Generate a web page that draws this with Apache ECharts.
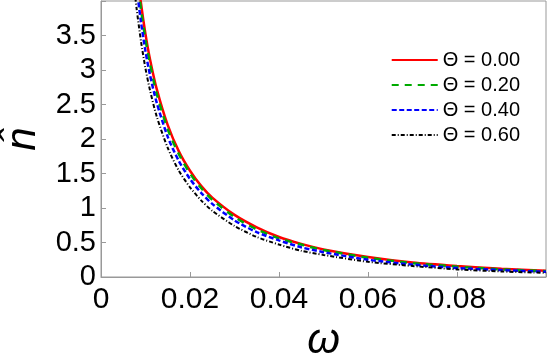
<!DOCTYPE html>
<html>
<head>
<meta charset="utf-8">
<script src="https://cdn.jsdelivr.net/npm/echarts@6/dist/echarts.min.js"></script>
<style>
  html, body { margin: 0; padding: 0; background: #fff; }
  #chart { width: 548px; height: 354px; }
</style>
</head>
<body>
<div id="chart"></div>
<script>
// omega grid (x values) shared by all curves
const omega = [0.0075, 0.008, 0.009, 0.01, 0.011, 0.0125, 0.015, 0.0175, 0.02, 0.0225,
  0.025, 0.03, 0.035, 0.04, 0.045, 0.05, 0.06, 0.07, 0.08, 0.09, 0.1]

// n-hat values, one array per Theta
const theta000 = [4.85, 4.52, 3.96, 3.52, 3.16, 2.73, 2.20, 1.82, 1.54, 1.32,
  1.15, 0.90, 0.72, 0.58, 0.48, 0.40, 0.29, 0.21, 0.16, 0.12, 0.09]
const theta020 = [4.74, 4.42, 3.87, 3.44, 3.09, 2.66, 2.14, 1.78, 1.50, 1.29,
  1.12, 0.87, 0.69, 0.56, 0.47, 0.39, 0.28, 0.20, 0.15, 0.11, 0.085]
const theta040 = [4.52, 4.20, 3.69, 3.27, 2.93, 2.53, 2.03, 1.68, 1.42, 1.22,
  1.06, 0.82, 0.65, 0.53, 0.43, 0.36, 0.25, 0.18, 0.13, 0.10, 0.075]
const theta060 = [4.18, 3.89, 3.41, 3.02, 2.71, 2.33, 1.87, 1.54, 1.30, 1.11,
  0.96, 0.74, 0.58, 0.47, 0.38, 0.32, 0.22, 0.16, 0.11, 0.08, 0.06]

const seriesNames = ['Θ = 0.00', 'Θ = 0.20', 'Θ = 0.40', 'Θ = 0.60']
const xTicks = [0, 0.02, 0.04, 0.06, 0.08]          // labelled x ticks
const yTicks = [0, 0.5, 1, 1.5, 2, 2.5, 3, 3.5]     // labelled y ticks

const font = "'Liberation Sans', Arial, sans-serif"
const axisGray = '#999'

const pairs = ys => omega.map((w, i) => [w, ys[i]])

const chart = echarts.init(document.getElementById('chart'))

const lineSeries = (name, ys, color, width, dash) => ({
  name,
  type: 'line',
  data: pairs(ys),
  smooth: 0.25,
  symbol: 'none',
  clip: true,
  lineStyle: { color, width, type: dash },
  itemStyle: { color }
})

const option = {
  animation: false,
  backgroundColor: '#fff',
  grid: {
    left: 101, right: 2, top: 1, bottom: 77,
    outerBoundsMode: 'none',
    containLabel: false,
    show: true, borderColor: axisGray, borderWidth: 1
  },
  legend: {
    right: 23,
    top: 45,
    orient: 'vertical',
    itemWidth: 46,
    itemHeight: 14,
    itemGap: 5,
    itemStyle: { opacity: 0 },
    textStyle: { fontFamily: font, fontSize: 20, lineHeight: 20, color: '#000' },
    data: seriesNames
  },
  xAxis: {
    type: 'value',
    min: 0,
    max: 0.1,
    interval: 0.02,
    name: 'ω',
    nameLocation: 'middle',
    nameGap: 38,
    nameTextStyle: { fontFamily: font, fontSize: 42, fontStyle: 'italic', color: '#000' },
    axisLine: { lineStyle: { color: axisGray } },
    axisTick: { inside: true, length: 5, lineStyle: { color: axisGray } },
    splitLine: { show: false },
    axisLabel: {
      fontFamily: font, fontSize: 30, color: '#000', margin: 8,
      formatter: v => xTicks.some(t => Math.abs(t - v) < 1e-9) ? String(+v.toFixed(2)) : ''
    }
  },
  yAxis: {
    type: 'value',
    min: 0,
    max: 4,
    interval: 0.5,
    name: 'n\u0302',
    nameLocation: 'middle',
    nameGap: 56,
    nameTextStyle: { fontFamily: font, fontSize: 42, fontStyle: 'italic', color: '#000' },
    axisLine: { show: true, lineStyle: { color: axisGray } },
    axisTick: { show: true, inside: true, length: 5, lineStyle: { color: axisGray } },
    splitLine: { show: false },
    axisLabel: {
      fontFamily: font, fontSize: 29, color: '#000', margin: 5,
      formatter: v => yTicks.some(t => Math.abs(t - v) < 1e-9) ? String(v) : ''
    }
  },
  series: [
    lineSeries(seriesNames[0], theta000, '#ff0000', 2.5, 'solid'),
    lineSeries(seriesNames[1], theta020, '#00aa00', 2.5, [7, 6]),
    lineSeries(seriesNames[2], theta040, '#0000ff', 2.5, [5, 2.5]),
    lineSeries(seriesNames[3], theta060, '#000000', 2, [4, 2, 1, 2])
  ]
}

chart.setOption(option)
</script>
</body>
</html>
